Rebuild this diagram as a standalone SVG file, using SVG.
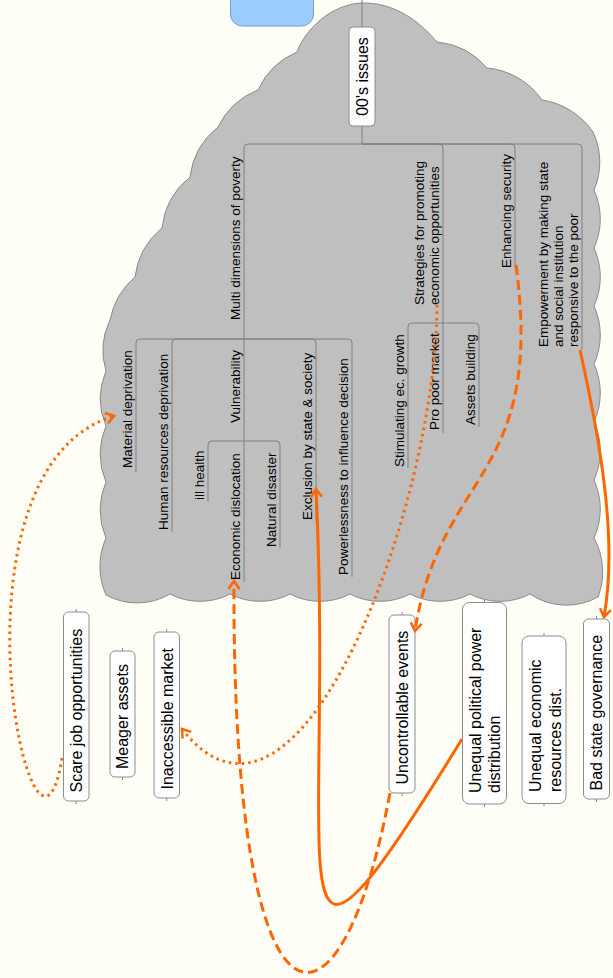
<svg xmlns="http://www.w3.org/2000/svg" width="613" height="978" viewBox="0 0 613 978">
<style>
.t{font-family:"Liberation Sans",Arial,sans-serif;font-size:13.5px;fill:#000}
.b{font-family:"Liberation Sans",Arial,sans-serif;font-size:16px;fill:#000}
.ln{fill:none;stroke:#808080;stroke-width:1}
.box{fill:#ffffff;stroke:#8c8c8c;stroke-width:1}
.tick{stroke:#8c8c8c;stroke-width:1}
.c{fill:none;stroke:#ff6600;stroke-width:3}
.dash{stroke-dasharray:10 5}
.dot{stroke-dasharray:2.5 4}
</style>
<defs>
<marker id="arr" markerUnits="userSpaceOnUse" viewBox="-12 -8 14 16" markerWidth="14" markerHeight="16" refX="0" refY="0" orient="auto" overflow="visible">
<path d="M-8,-5.5 L0,0 L-8,5.5" fill="none" stroke="#ff6600" stroke-width="2.5"/>
</marker>
</defs>
<rect x="0" y="0" width="613" height="978" fill="#fffff7"/>
<g id="cloud">
<path d="M297,52 C305,30 330,5 361,3 C395,2 420,22 437,42 A75 75 0 0 1 487,68 A75 75 0 0 1 542,100 A75 75 0 0 1 593,132 A70 70 0 0 1 594,190 A70 70 0 0 1 594,248 A70 70 0 0 1 594,306 A70 70 0 0 1 594,364 A70 70 0 0 1 594,422 A70 70 0 0 1 594,480 A70 70 0 0 1 594,538 A70 70 0 0 1 598,597 A65 65 0 0 1 530,594 A65 65 0 0 1 470,594 A65 65 0 0 1 410,594 A65 65 0 0 1 350,594 A65 65 0 0 1 290,594 A65 65 0 0 1 230,594 A65 65 0 0 1 170,594 A65 65 0 0 1 106,595 A70 70 0 0 1 106,538 A70 70 0 0 1 106,482 A70 70 0 0 1 106,426 A70 70 0 0 1 106,371 A70 70 0 0 1 110,320 A75 75 0 0 1 135,277 A75 75 0 0 1 162,228 A75 75 0 0 1 190,177 A75 75 0 0 1 218,127 A75 75 0 0 1 258,90 A75 75 0 0 1 297,52 Z" fill="#bfbfbf" stroke="#8a8a8a" stroke-width="1"/>
</g>
<g id="tree-lines">
<path class="ln" d="M362,0 V27 M362,126 V144"/>
<path class="ln" d="M362,144 H248 Q244,144 244,148 V339"/>
<path class="ln" d="M362,144 H439 Q443,144 443,148 V323"/>
<path class="ln" d="M362,144 H511 Q515,144 515,148 V267"/>
<path class="ln" d="M362,144 H578 Q582,144 582,148 V350"/>
<path class="ln" d="M244,339 H140 Q136,339 136,343 V472"/>
<path class="ln" d="M244,339 H176 Q172,339 172,343 V532"/>
<path class="ln" d="M244,339 V441"/>
<path class="ln" d="M244,339 H312 Q316,339 316,343 V522"/>
<path class="ln" d="M244,339 H348 Q352,339 352,343 V577"/>
<path class="ln" d="M244,441 H212 Q208,441 208,445 V502"/>
<path class="ln" d="M244,441 V582"/>
<path class="ln" d="M244,441 H276 Q280,441 280,445 V548"/>
<path class="ln" d="M443,323 H412 Q408,323 408,327 V468"/>
<path class="ln" d="M443,323 V433"/>
<path class="ln" d="M443,323 H475 Q479,323 479,327 V427"/>
</g>
<g id="root">
<rect x="230.5" y="-20" width="83" height="46" rx="12" fill="#99ccff" stroke="#7a9cc0" stroke-width="1"/>
</g>
<g id="n-issues">
<rect class="box" x="349" y="27" width="26" height="99" rx="4"/>
<text class="b" transform="translate(368,76.5) rotate(-90)" text-anchor="middle">00's issues</text>
</g>
<g id="n-multi"><text class="t" transform="translate(239.5,320) rotate(-90)">Multi dimensions of poverty</text></g>
<g id="n-strategies"><text class="t" transform="translate(423.5,305) rotate(-90)">Strategies for promoting</text><text class="t" transform="translate(438.5,305) rotate(-90)">economic opportunities</text></g>
<g id="n-security"><text class="t" transform="translate(510.5,268) rotate(-90)">Enhancing security</text></g>
<g id="n-empowerment"><text class="t" transform="translate(547.5,347) rotate(-90)">Empowerment by making state</text><text class="t" transform="translate(562.5,347) rotate(-90)">and social institution</text><text class="t" transform="translate(577.5,347) rotate(-90)">responsive to the poor</text></g>
<g id="n-material"><text class="t" transform="translate(131.5,468) rotate(-90)">Material deprivation</text></g>
<g id="n-human"><text class="t" transform="translate(167.5,530) rotate(-90)">Human resources deprivation</text></g>
<g id="n-vulnerability"><text class="t" transform="translate(239.5,423) rotate(-90)">Vulnerability</text></g>
<g id="n-exclusion"><text class="t" transform="translate(311.5,520) rotate(-90)">Exclusion by state &amp; society</text></g>
<g id="n-powerless"><text class="t" transform="translate(347.5,575) rotate(-90)">Powerlessness to influence decision</text></g>
<g id="n-ill"><text class="t" transform="translate(203.5,500) rotate(-90)">ill health</text></g>
<g id="n-econ"><text class="t" transform="translate(239.5,580) rotate(-90)">Economic dislocation</text></g>
<g id="n-natural"><text class="t" transform="translate(275.5,547) rotate(-90)">Natural disaster</text></g>
<g id="n-stim"><text class="t" transform="translate(403.5,467) rotate(-90)">Stimulating ec. growth</text></g>
<g id="n-propoor"><text class="t" transform="translate(438.5,430) rotate(-90)">Pro poor market</text></g>
<g id="n-assets"><text class="t" transform="translate(474.5,425) rotate(-90)">Assets building</text></g>
<g id="n-scare">
<rect class="box" x="63.5" y="612" width="25.5" height="189" rx="5"/>
<path class="tick" d="M76.2,609 V612 M76.2,801 V804"/>
<text class="b" transform="translate(81.7,792.5) rotate(-90)">Scare job opportunities</text>
</g>
<g id="n-meager">
<rect class="box" x="110" y="651" width="25" height="126" rx="5"/>
<path class="tick" d="M122.5,648 V651 M122.5,777 V780"/>
<text class="b" transform="translate(128,769) rotate(-90)">Meager assets</text>
</g>
<g id="n-inaccessible">
<rect class="box" x="154" y="632" width="25.5" height="166" rx="5"/>
<path class="tick" d="M166.7,629 V632 M166.7,798 V801"/>
<text class="b" transform="translate(172.5,789.5) rotate(-90)">Inaccessible market</text>
</g>
<g id="n-uncontrollable">
<rect class="box" x="389" y="615" width="26" height="178" rx="5"/>
<path class="tick" d="M402,612 V615 M402,793 V796"/>
<text class="b" transform="translate(407.5,784.5) rotate(-90)">Uncontrollable events</text>
</g>
<g id="n-political">
<rect class="box" x="462.5" y="602.5" width="44" height="201.5" rx="7"/>
<path class="tick" d="M484.5,599.5 V602.5 M484.5,804 V807"/>
<text class="b" transform="translate(481,793) rotate(-90)">Unequal political power</text>
<text class="b" transform="translate(500,793) rotate(-90)">distribution</text>
</g>
<g id="n-economic">
<rect class="box" x="522" y="636" width="44" height="167.5" rx="7"/>
<path class="tick" d="M544,633 V636 M544,803.5 V806.5"/>
<text class="b" transform="translate(541,792) rotate(-90)">Unequal economic</text>
<text class="b" transform="translate(561,792) rotate(-90)">resources dist.</text>
</g>
<g id="n-badstate">
<rect class="box" x="583.5" y="619" width="26" height="180" rx="5"/>
<path class="tick" d="M596.5,616 V619 M596.5,799 V802"/>
<text class="b" transform="translate(601.8,790.5) rotate(-90)">Bad state governance</text>
</g>
<g id="connectors">
<path class="c dot" d="M62,758 C35,930 -65,470 114,416" marker-end="url(#arr)"/>
<path class="c dot" d="M437,305 C437,500 300,880 182,729" marker-end="url(#arr)"/>
<path class="c dash" d="M516,265 C545,480 440,470 415,631" marker-end="url(#arr)"/>
<path class="c dash" d="M390,793 C340,1060 232,1060 234,581" marker-end="url(#arr)"/>
<path class="c" d="M462,739 C265,1060 335,880 316,489" marker-end="url(#arr)"/>
<path class="c" d="M580,350 C600,440 618,540 604,617" marker-end="url(#arr)"/>
</g>
</svg>
